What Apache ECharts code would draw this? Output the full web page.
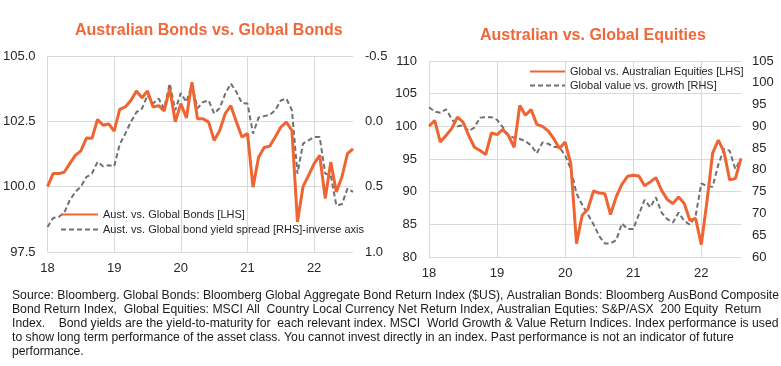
<!DOCTYPE html>
<html>
<head>
<meta charset="utf-8">
<script src="https://cdn.jsdelivr.net/npm/echarts@6/dist/echarts.min.js"></script>
<style>
html,body{margin:0;padding:0;background:#fff;}
#c{width:781px;height:366px;}
</style>
</head>
<body>
<div id="c"></div>
<script>
// ---- Data ----
const yearLabels = ['18','19','20','21','22'];
const startYear = 2018, nMonths = 56; // Jan 2018 .. Aug 2022

const bondsTitle = 'Australian Bonds vs. Global Bonds';
const equitiesTitle = 'Australian vs. Global Equities';

const bondsSeriesName = 'Aust. vs. Global Bonds [LHS]';
const spreadSeriesName = 'Aust. vs. Global bond yield spread [RHS]-inverse axis';
const equitySeriesName = 'Global vs. Australian Equities [LHS]';
const valueGrowthSeriesName = 'Global value vs. growth [RHS]';

const ausGlobalBonds = [100.0,100.5,100.5,100.55,100.88,101.2,101.37,101.86,101.85,102.57,102.35,102.4,
  102.13,102.96,103.05,103.3,103.66,103.4,103.66,103.05,103.1,102.9,103.75,102.48,
  103.18,102.63,104.0,102.6,102.6,102.47,101.77,102.15,102.8,103.1,102.48,101.9,
  102.03,99.98,101.13,101.5,101.55,101.9,102.28,102.47,102.15,98.65,100.0,100.43,
  100.88,101.2,99.55,100.94,99.8,100.37,101.26,101.45];

const bondYieldSpread = [0.809,0.74,0.732,0.70,0.604,0.54,0.50,0.426,0.40,0.31,0.344,0.336,
  0.344,0.176,0.094,0.005,-0.07,-0.097,-0.2,-0.136,-0.174,-0.097,-0.29,-0.085,
  -0.217,-0.148,-0.28,-0.1,-0.148,-0.16,-0.06,-0.1,-0.212,-0.289,-0.225,-0.14,
  -0.136,0.094,-0.029,-0.04,-0.05,-0.085,-0.16,-0.174,-0.085,0.40,0.17,0.145,
  0.12,0.12,0.40,0.413,0.643,0.635,0.515,0.54];

const globalVsAusEquities = [100.0,100.9,97.6,98.6,99.65,101.4,100.66,98.6,96.8,96.3,95.67,98.98,
  98.73,99.5,98.6,96.8,103.2,101.7,102.56,100.3,100.0,99.3,98.1,96.6,
  97.6,94.3,82.05,86.4,87.3,90.1,89.8,89.7,86.5,89.2,91.1,92.35,
  92.5,92.4,90.9,91.5,92.15,90.2,88.8,88.2,89.2,88.2,85.6,85.9,
  81.9,88.5,95.9,97.9,96.1,91.8,92.0,95.1];

const valueVsGrowth = [94.4,93.4,93.1,93.9,91.7,90.0,90.2,88.9,89.7,92.0,92.1,92.1,
  91.5,89.8,88.0,87.35,87.1,86.6,85.6,83.8,86.3,86.0,85.3,85.2,
  83.3,80.2,74.6,72.0,69.8,67.5,64.8,63.1,63.1,63.85,67.7,66.4,
  66.4,69.8,73.1,71.4,73.7,70.2,68.7,67.9,70.2,68.3,67.4,69.4,
  76.9,76.3,76.1,81.2,84.8,84.4,80.2,82.5];

const footnoteLines = [
  'Source: Bloomberg. Global Bonds: Bloomberg Global Aggregate Bond Return Index ($US), Australian Bonds: Bloomberg AusBond Composite',
  'Bond Return Index,  Global Equities: MSCI All  Country Local Currency Net Return Index, Australian Equties: S&P/ASX  200 Equity  Return',
  'Index.    Bond yields are the yield-to-maturity for  each relevant index. MSCI  World Growth & Value Return Indices. Index performance is used',
  'to show long term performance of the asset class. You cannot invest directly in an index. Past performance is not an indicator of future',
  'performance.'
];

// ---- Build ----
const months = [];
for (let i = 0; i < nMonths; i++) {
  const y = startYear + Math.floor(i / 12), m = i % 12 + 1;
  months.push(y + '-' + (m < 10 ? '0' + m : m));
}
const isJan = (idx) => idx % 12 === 0;

const ORANGE = '#EF6430';
const TITLE_ORANGE = '#F0683A';
const GRAY = '#707070';
const GRID = '#D9D9D9';
const TXT = '#262626';
const FONT = '"Liberation Sans", Arial, sans-serif';

function xAxis(gi) {
  return {
    type: 'category', gridIndex: gi, data: months, boundaryGap: false,
    axisLine: {show: false}, axisTick: {show: false},
    axisLabel: {interval: (idx) => isJan(idx), formatter: (v) => v.slice(2, 4),
      color: TXT, fontSize: 13, margin: 10, fontFamily: FONT},
    splitLine: {show: true, interval: (idx) => isJan(idx), lineStyle: {color: GRID, width: 1}}
  };
}

const footFont = '"Liberation Sans Narrow", "Arial Narrow", "Liberation Sans", Arial, sans-serif';
const footSize = 12.5;
const mctx = document.createElement('canvas').getContext('2d');
mctx.font = footSize + 'px ' + footFont;
const footScale = 767 / mctx.measureText(footnoteLines[0]).width;

const chart = echarts.init(document.getElementById('c'), null, {renderer: 'canvas'});
chart.setOption({
  animation: false,
  textStyle: {fontFamily: FONT},
  title: [
    {text: bondsTitle, left: 75, top: 23, padding: 0,
      textStyle: {color: TITLE_ORANGE, fontSize: 16, fontWeight: 'bold', fontFamily: FONT}},
    {text: equitiesTitle, left: 480, top: 28, padding: 0,
      textStyle: {color: TITLE_ORANGE, fontSize: 16, fontWeight: 'bold', fontFamily: FONT}}
  ],
  legend: [
    {data: [bondsSeriesName, spreadSeriesName], orient: 'vertical', left: 60, top: 209, padding: 0,
      itemWidth: 37, itemHeight: 12, itemGap: 4, itemStyle: {opacity: 0},
      textStyle: {color: TXT, fontSize: 11, fontFamily: FONT}},
    {data: [equitySeriesName, valueGrowthSeriesName], orient: 'vertical', left: 529, top: 66, padding: 0,
      itemWidth: 35, itemHeight: 12, itemGap: 3, itemStyle: {opacity: 0},
      textStyle: {color: TXT, fontSize: 11, fontFamily: FONT}}
  ],
  grid: [
    {left: 47, right: 428, top: 56, bottom: 114},
    {left: 429, right: 40, top: 61, bottom: 109}
  ],
  xAxis: [xAxis(0), xAxis(1)],
  yAxis: [
    {type: 'value', gridIndex: 0, position: 'left', min: 97.5, max: 105, interval: 2.5,
      axisLine: {show: false}, axisTick: {show: false},
      axisLabel: {formatter: (v) => v.toFixed(1), color: TXT, fontSize: 13, margin: 12, fontFamily: FONT},
      splitLine: {lineStyle: {color: GRID, width: 1}}},
    {type: 'value', gridIndex: 0, position: 'right', inverse: true, min: -0.5, max: 1.0, interval: 0.5,
      axisLine: {show: false}, axisTick: {show: false},
      axisLabel: {formatter: (v) => v.toFixed(1), color: TXT, fontSize: 13, margin: 12, fontFamily: FONT},
      splitLine: {show: false}},
    {type: 'value', gridIndex: 1, position: 'left', min: 80, max: 110, interval: 5,
      axisLine: {show: false}, axisTick: {show: false},
      axisLabel: {color: TXT, fontSize: 13, margin: 12, fontFamily: FONT},
      splitLine: {lineStyle: {color: GRID, width: 1}}},
    {type: 'value', gridIndex: 1, position: 'right', min: 60, max: 105, interval: 5,
      axisLine: {show: false}, axisTick: {show: false},
      axisLabel: {color: TXT, fontSize: 13, margin: 11, fontFamily: FONT},
      splitLine: {show: false}}
  ],
  series: [
    {name: bondsSeriesName, type: 'line', xAxisIndex: 0, yAxisIndex: 0, data: ausGlobalBonds,
      symbol: 'none', z: 3, lineStyle: {color: ORANGE, width: 3}, itemStyle: {color: ORANGE}},
    {name: spreadSeriesName, type: 'line', xAxisIndex: 0, yAxisIndex: 1, data: bondYieldSpread,
      symbol: 'none', z: 2, lineStyle: {color: GRAY, width: 2, type: [5, 3]}, itemStyle: {color: GRAY}},
    {name: equitySeriesName, type: 'line', xAxisIndex: 1, yAxisIndex: 2, data: globalVsAusEquities,
      symbol: 'none', z: 3, lineStyle: {color: ORANGE, width: 3}, itemStyle: {color: ORANGE}},
    {name: valueGrowthSeriesName, type: 'line', xAxisIndex: 1, yAxisIndex: 3, data: valueVsGrowth,
      symbol: 'none', z: 2, lineStyle: {color: GRAY, width: 2, type: [5, 3]}, itemStyle: {color: GRAY}}
  ],
  graphic: footnoteLines.map((t, k) => ({
    type: 'text', x: 12, y: 296 + k * 14, scaleX: footScale, silent: true,
    style: {text: t, fill: '#1A1A1A', fontSize: footSize, fontFamily: footFont, verticalAlign: 'middle'}
  }))
});
</script>
</body>
</html>
